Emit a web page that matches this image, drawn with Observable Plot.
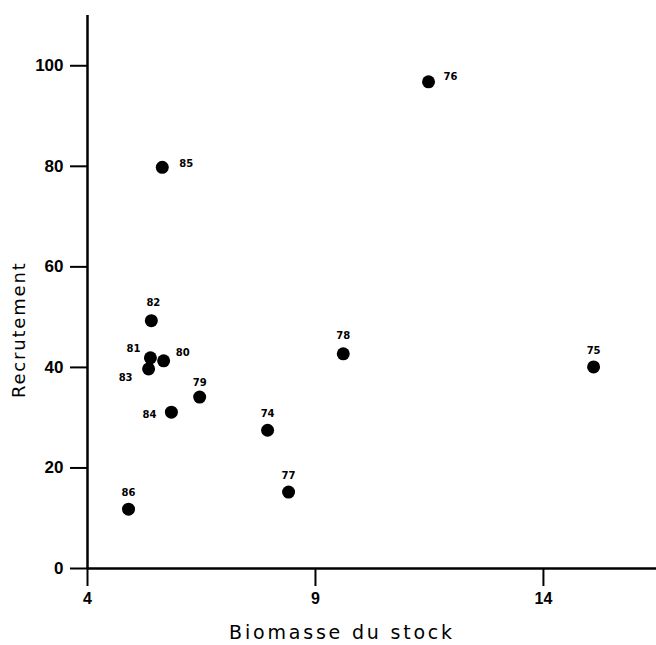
<!DOCTYPE html>
<html>
<head>
<meta charset="utf-8">
<script src="https://cdn.jsdelivr.net/npm/d3@7"></script>
<script src="https://cdn.jsdelivr.net/npm/@observablehq/plot@0.6"></script>
<style>
  html, body { margin: 0; padding: 0; background: #fff; }
  svg { display: block; }
</style>
</head>
<body>
<div id="chart"></div>
<script>
// ---- data ----
const years   = ["74", "75", "76", "77", "78", "79", "80", "81", "82", "83", "84", "85", "86"];
const biomass = [7.95, 15.10, 11.48, 8.41, 9.61, 6.46, 5.67, 5.38, 5.40, 5.34, 5.84, 5.64, 4.90];
const recruit = [27.5, 40.1, 96.8, 15.2, 42.7, 34.1, 41.3, 41.9, 49.3, 39.7, 31.1, 79.8, 11.8];
const xTicks  = [4, 9, 14];
const yTicks  = [0, 20, 40, 60, 80, 100];
const xTitle  = "Biomasse du stock";
const yTitle  = "Recrutement";

const data = years.map((yr, i) => ({year: yr, b: biomass[i], r: recruit[i]}));

// label placement (pixel offsets), styling only
const labelOffset = {
  "74": [0, -16], "75": [0, -16], "76": [22, -5], "77": [0, -16], "78": [0, -18],
  "79": [0, -14], "80": [19, -8], "81": [-17, -9], "82": [2, -18], "83": [-23, 9],
  "84": [-22, 3], "85": [24, -4], "86": [0, -16]
};

const labelMarks = data.map(d => Plot.text([d], {
  x: "b", y: "r", text: "year",
  dx: labelOffset[d.year][0], dy: labelOffset[d.year][1],
  fontSize: 10, fontWeight: "bold", fill: "black"
}));

const chart = Plot.plot({
  width: 656,
  height: 645,
  marginLeft: 87,
  marginRight: 0,
  marginTop: 15,
  marginBottom: 77,
  style: {fontFamily: "DejaVu Sans", background: "white", color: "black"},
  x: {domain: [4, 16.48], axis: null},
  y: {domain: [0, 110], axis: null},
  marks: [
    Plot.axisY({ticks: yTicks, tickSize: 17, tickPadding: 7, fontSize: 17, fontWeight: "bold",
                fontFamily: "Liberation Sans", strokeWidth: 2, label: null}),
    Plot.axisX({ticks: xTicks, tickSize: 18, tickPadding: 6, fontSize: 16, fontWeight: "bold",
                fontFamily: "Liberation Sans", strokeWidth: 2, label: null}),
    Plot.ruleX([4], {strokeWidth: 2.5}),
    Plot.ruleY([0], {strokeWidth: 2.5}),
    Plot.dot(data, {x: "b", y: "r", r: 6.5, fill: "black", stroke: "none"}),
    ...labelMarks,
    Plot.text([xTitle], {frameAnchor: "bottom", dx: -30, dy: 70, fontSize: 19, fill: "black"}),
    Plot.text([yTitle], {frameAnchor: "left", rotate: -90, dx: -68, dy: 106, fontSize: 18, fill: "black"})
  ]
});

d3.select(chart).selectAll("text")
  .filter(function() { return this.textContent === xTitle; })
  .attr("letter-spacing", "2.8px");
d3.select(chart).selectAll("text")
  .filter(function() { return this.textContent === yTitle; })
  .attr("letter-spacing", "1.8px");

document.getElementById("chart").appendChild(chart);
</script>
</body>
</html>
